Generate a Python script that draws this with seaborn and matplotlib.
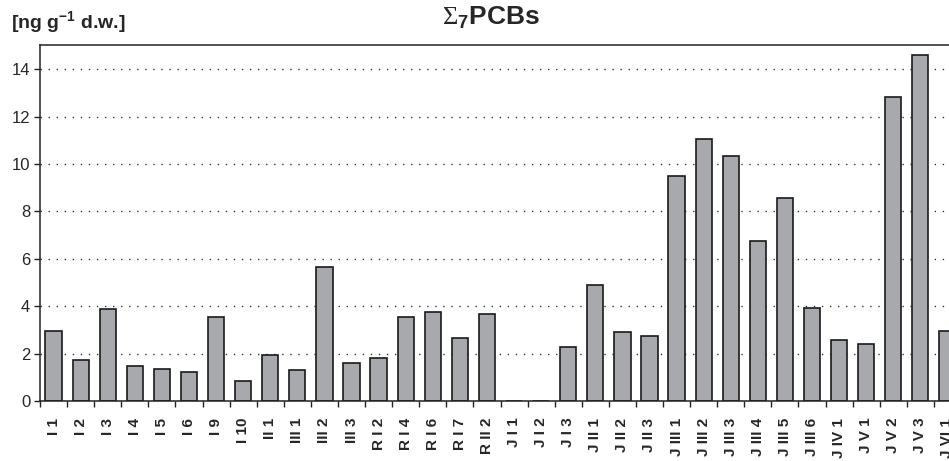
import matplotlib
matplotlib.use("Agg")
import matplotlib.pyplot as plt
import seaborn as sns
import pandas as pd
from matplotlib.ticker import FixedLocator

# Sampling sites and the sum of seven indicator PCB congeners
sites = ["I 1", "I 2", "I 3", "I 4", "I 5", "I 6", "I 9", "I 10",
         "II 1", "III 1", "III 2", "III 3",
         "R I 2", "R I 4", "R I 6", "R I 7", "R II 2",
         "J I 1", "J I 2", "J I 3", "J II 1", "J II 2", "J II 3",
         "J III 1", "J III 2", "J III 3", "J III 4", "J III 5", "J III 6",
         "J IV 1", "J V 1", "J V 2", "J V 3", "J VI 1"]
pcb7 = [2.97, 1.74, 3.87, 1.47, 1.36, 1.23, 3.54, 0.83,
        1.94, 1.29, 5.66, 1.61,
        1.81, 3.54, 3.74, 2.64, 3.67,
        0.0, 0.0, 2.26, 4.90, 2.90, 2.75,
        9.51, 11.04, 10.34, 6.77, 8.55, 3.93,
        2.58, 2.39, 12.82, 14.59, 2.96]
y_ticks = [0, 2, 4, 6, 8, 10, 12, 14]

df = pd.DataFrame({"site": sites, "pcb7": pcb7})

sns.set_style("white")
plt.rcParams["font.family"] = ["Liberation Sans", "DejaVu Sans"]
plt.rcParams["mathtext.fontset"] = "custom"
plt.rcParams["mathtext.rm"] = "Liberation Serif"
plt.rcParams["mathtext.bf"] = "Liberation Sans:bold"
plt.rcParams["mathtext.it"] = "Liberation Sans:italic"

W, H = 949, 461
fig = plt.figure(figsize=(W / 100, H / 100), dpi=100)
ax_left, ax_right = 40, 961
ax_top, ax_bottom = 45.5, 401
ax = fig.add_axes([ax_left / W, (H - ax_bottom) / H,
                   (ax_right - ax_left) / W, (ax_bottom - ax_top) / H])

sns.barplot(data=df, x="site", y="pcb7", order=sites, color="#a8a9ad",
            saturation=1, width=0.6, edgecolor="#1a1a1a", linewidth=1.2,
            ax=ax)

ax.set_xlim(-0.5, len(sites) - 0.5)
ax.set_ylim(0, 15)
ax.yaxis.set_major_locator(FixedLocator(y_ticks))
ax.set_yticklabels([str(t) for t in y_ticks], fontsize=12)
ax.set_xlabel("")
ax.set_ylabel("")

# Category labels at bar centres, tick marks at category boundaries
ax.set_xticks(range(len(sites)))
ax.set_xticklabels(sites, rotation=90, fontsize=11, fontweight="bold",
                   va="top", ha="center")
ax.xaxis.set_minor_locator(FixedLocator([i - 0.5 for i in range(len(sites) + 1)]))
ax.tick_params(axis="x", which="major", length=0, pad=12)
ax.tick_params(axis="x", which="minor", length=4, width=1, color="#222222",
               direction="out", bottom=True)
ax.tick_params(axis="y", which="major", length=4, width=1, color="#222222",
               direction="out", left=True, pad=3)

# Dotted horizontal grid behind the bars
ax.set_axisbelow(True)
ax.yaxis.grid(True, linestyle=(0, (1, 4.8)), linewidth=1.0, color="#333333")
ax.xaxis.grid(False)

for side in ["left", "bottom", "top", "right"]:
    ax.spines[side].set_visible(True)
    ax.spines[side].set_color("#222222")
    ax.spines[side].set_linewidth(1.1)

fig.text(11 / W, 1 - 28 / H, r"[ng g$^{\mathbf{-1}}$ d.w.]", fontsize=14,
         fontweight="bold", ha="left", va="baseline")
fig.text(491 / W, 1 - 25 / H, r"$\Sigma_{\mathbf{7}}$PCBs", fontsize=19,
         fontweight="bold", ha="center", va="baseline")

fig.savefig("out.png", dpi=100)
